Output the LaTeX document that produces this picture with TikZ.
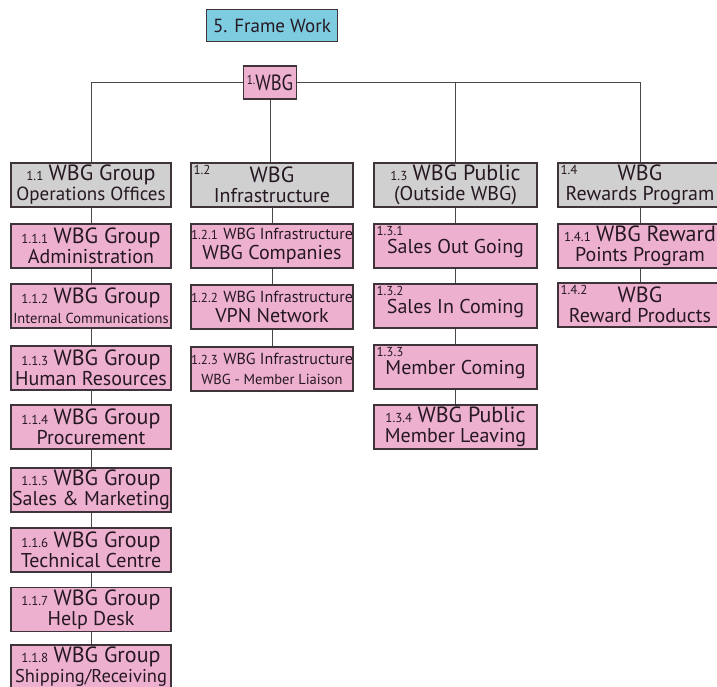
\documentclass[tikz,border=0pt]{standalone}
\usepackage{fontspec}
\setmainfont{PT Sans}
\definecolor{boxpink}{RGB}{237,176,207}
\definecolor{boxgray}{RGB}{208,208,208}
\definecolor{boxblue}{RGB}{126,204,224}
\definecolor{boxline}{RGB}{62,52,58}
\definecolor{boxtext}{RGB}{38,24,34}
\definecolor{linkgray}{RGB}{72,72,72}
\newcommand{\bigtext}{\fontsize{20}{20}\selectfont}
\newcommand{\toptext}{\fontsize{22}{20}\selectfont}
\newcommand{\midtext}{\fontsize{16}{20}\selectfont}
\newcommand{\smalltext}{\fontsize{14.5}{20}\selectfont}
\newcommand{\nr}[1]{{\fontsize{13}{13}\selectfont #1}}
\tikzset{
  box/.style={draw=boxline, line width=1.2pt, text=boxtext, minimum width=160, minimum height=44, inner sep=0pt, align=center, font=\bigtext},
  head/.style={box, fill=boxgray},
  item/.style={box, fill=boxpink},
  corner/.style={anchor=north west, inner sep=3pt, text=boxtext, font=\fontsize{13}{13}\selectfont},
  link/.style={draw=linkgray, line width=1pt}
}
\begin{document}
\begin{tikzpicture}[x=1pt,y=-1pt]
\clip (0,0) rectangle (717,687);
\fill[white] (0,0) rectangle (717,687);
\node [box, fill=boxblue, minimum width=131, minimum height=32, font=\fontsize{19}{20}\selectfont] (frame) at (272,25.5) {5. Frame Work};
\node [item, minimum width=53, minimum height=33, font=\fontsize{22}{22}\selectfont] (wbg) at (270,82.5) {\scalebox{0.85}[1]{\raisebox{6pt}{\nr{1.}}WBG}};

\node [head, minimum width=160] (g11) at (91,185) {\nr{1.1} {\toptext WBG Group}\\\fontsize{19}{20}\selectfont Operations Offices};
\node [head, minimum width=162, label={[corner]north west:1.2}] (g12) at (272,185) {{\toptext WBG}\\Infrastructure};
\node [head, minimum width=163] (g13) at (455.5,185) {\nr{1.3} {\toptext WBG Public}\\(Outside WBG)};
\node [head, minimum width=164, label={[corner]north west:1.4}] (g14) at (640,185) {{\toptext WBG}\\Rewards Program};

\node [item, minimum width=160] (g111) at (91,246) {\nr{1.1.1} {\toptext WBG Group}\\Administration};
\node [item, minimum width=160] (g112) at (91,306) {\nr{1.1.2} {\toptext WBG Group}\\\smalltext Internal Communications};
\node [item, minimum width=160] (g113) at (91,368) {\nr{1.1.3} {\toptext WBG Group}\\Human Resources};
\node [item, minimum width=160] (g114) at (91,427) {\nr{1.1.4} {\toptext WBG Group}\\Procurement};
\node [item, minimum width=160] (g115) at (91,490) {\nr{1.1.5} {\toptext WBG Group}\\Sales \& Marketing};
\node [item, minimum width=160] (g116) at (91,550) {\nr{1.1.6} {\toptext WBG Group}\\Technical Centre};
\node [item, minimum width=160] (g117) at (91,609.5) {\nr{1.1.7} {\toptext WBG Group}\\Help Desk};
\node [item, minimum width=160] (g118) at (91,667) {\nr{1.1.8} {\toptext WBG Group}\\\fontsize{18.5}{19}\selectfont Shipping/Receiving};

\node [item, minimum width=162] (g121) at (272,246) {\nr{1.2.1} {\midtext WBG Infrastructure}\\WBG Companies};
\node [item, minimum width=162] (g122) at (272,307) {\nr{1.2.2} {\midtext WBG Infrastructure}\\VPN Network};
\node [item, minimum width=162] (g123) at (272,369) {\nr{1.2.3} {\midtext WBG Infrastructure}\\\smalltext WBG - Member Liaison};

\node [item, minimum width=163, label={[corner]north west:1.3.1}] (g131) at (455.5,246) {\mbox{}\\Sales Out Going};
\node [item, minimum width=163, label={[corner]north west:1.3.2}] (g132) at (455.5,306) {\mbox{}\\Sales In Coming};
\node [item, minimum width=163, label={[corner]north west:1.3.3}] (g133) at (455.5,367) {\mbox{}\\Member Coming};
\node [item, minimum width=163] (g134) at (455.5,427) {\nr{1.3.4} {\toptext WBG Public}\\Member Leaving};

\node [item, minimum width=164] (g141) at (640,246) {\nr{1.4.1} {\toptext WBG Reward}\\Points Program};
\node [item, minimum width=164, label={[corner]north west:1.4.2}] (g142) at (640,305) {{\toptext WBG}\\Reward Products};

\draw [link] (wbg.west) -| (g11.north);
\draw [link] (wbg.east) -| (g13.north);
\draw [link] (wbg.east) -| (g14.north);
\draw [link] (wbg.south) -- (wbg.south |- g12.north);
\foreach \a/\b in {g11/g111,g111/g112,g112/g113,g113/g114,g114/g115,g115/g116,g116/g117,g117/g118,
                   g12/g121,g121/g122,g122/g123,
                   g13/g131,g131/g132,g132/g133,g133/g134,
                   g14/g141,g141/g142}
  \draw [link] (\a.south) -- (\b.north);
\end{tikzpicture}
\end{document}
